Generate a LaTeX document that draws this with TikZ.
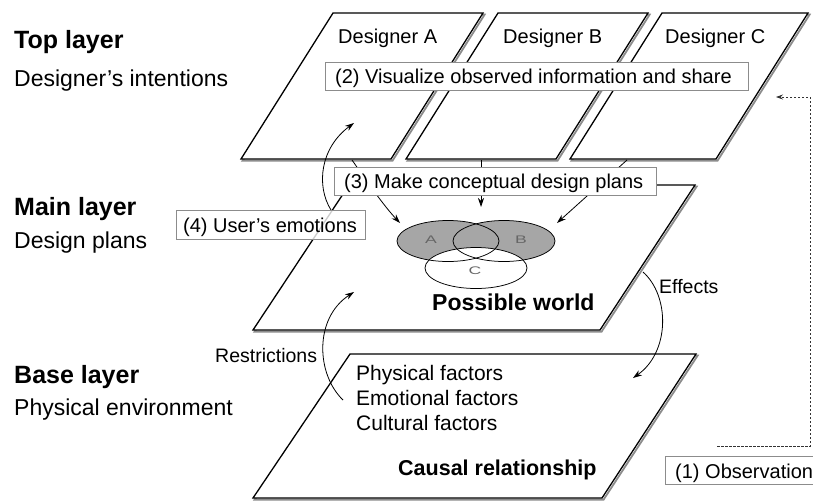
\documentclass[tikz,border=0pt]{standalone}
\usepackage{fontspec}
\setmainfont{Liberation Sans}
\usetikzlibrary{arrows.meta}
\newcommand{\layerplane}[4]{%
  \draw[planeshadow, shift={(1.6,1.6)}] (#1) -- (#2) -- (#3) -- (#4) -- cycle;
  \draw[planeedge] (#1) -- (#2) -- (#3) -- (#4) -- cycle;}
\newcommand{\wideletter}[1]{\scalebox{1.6}[1]{#1}}
\begin{document}
\begin{tikzpicture}[x=1pt,y=-1pt,
  planeedge/.style={draw=black, line width=1.3pt, fill=white, line join=miter},
  planeshadow/.style={draw=black!45, line width=1.8pt},
  lbox/.style={draw=black!45, line width=0.6pt, fill=white},
  arr/.style={-{Stealth[length=9pt,width=6pt]}, line width=0.8pt},
  obsline/.style={-{Stealth[length=7pt,width=5pt]}, line width=0.7pt, dash pattern=on 2.5pt off 1.5pt, draw=black!80},
  txt/.style={anchor=base west, inner sep=0pt},
  head/.style={txt, font=\fontsize{25}{28}\selectfont\bfseries},
  sub/.style={txt, font=\fontsize{23}{26}\selectfont},
  lab/.style={txt, font=\fontsize{20}{24}\selectfont},
  small/.style={txt, font=\fontsize{19.5}{23}\selectfont},
  fac/.style={txt, font=\fontsize{21}{24}\selectfont},
  big/.style={txt, font=\fontsize{23}{26}\selectfont\bfseries},
  venn/.style={inner sep=0pt, font=\fontsize{11}{12}\selectfont, text=black!60}
]
\useasboundingbox (0,0) rectangle (813,501);
% planes
\layerplane{333,13}{483,13}{391,159}{241,159}
\layerplane{498,13}{648,13}{556,159}{406,159}
\layerplane{662,13}{808,13}{716,159}{570,159}
\layerplane{349,185}{695,185}{600,330}{253,330}
\layerplane{350,354}{696,354}{602,498}{253,498}
% Venn
\fill[black!35] (448,241) ellipse [x radius=51, y radius=20.5];
\fill[black!35] (504,241) ellipse [x radius=51, y radius=20.5];
\fill[white] (476,268) ellipse [x radius=51, y radius=20.5];
\draw[line width=0.75pt] (448,241) ellipse [x radius=51, y radius=20.5];
\draw[line width=0.75pt] (504,241) ellipse [x radius=51, y radius=20.5];
\draw[line width=0.75pt] (476,268) ellipse [x radius=51, y radius=20.5];
\node[venn] (va) at (431,240) {\wideletter{A}};
\node[venn] (vb) at (521,240) {\wideletter{B}};
\node[venn] (vc) at (475,271) {\wideletter{C}};
% connector end points
\coordinate (aout) at (352,160);
\coordinate (ain) at (400,223);
\coordinate (bout) at (481,160);
\coordinate (bin) at (481,207);
\coordinate (cout) at (627,160);
\coordinate (cin) at (557,223);
\coordinate (emo) at (331,210);
\coordinate (atop) at (354,123);
\coordinate (effs) at (643,272);
\coordinate (effe) at (633,378);
\coordinate (ress) at (343,400);
\coordinate (rese) at (354,292);
\coordinate (obs0) at (717,446);
\coordinate (obs1) at (810,446);
\coordinate (obs2) at (810,97);
\coordinate (obs3) at (776,97);
% arrows
\draw[arr] (aout) .. controls (368,183) and (384,206) .. (ain);
\draw[arr] (bout) -- (bin);
\draw[arr] (cout) -- (cin);
\draw[arr] (emo) .. controls (316,186) and (320,148) .. (atop);
\draw[arr] (effs) .. controls (670,296) and (670,352) .. (effe);
\draw[arr] (ress) .. controls (316,374) and (314,318) .. (rese);
\draw[obsline] (obs0) -- (obs1) -- (obs2) -- (obs3);
% label boxes
\draw[lbox] (325,62) rectangle (748,90);
\draw[lbox] (334,167) rectangle (656,195);
\draw[lbox, fill opacity=0.8] (176,210) rectangle (365,239);
\draw[lbox] (665,456) rectangle (830,484);
% texts
\node[head] (t1) at (14,48) {Top layer};
\node[sub] (t2) at (14,86) {Designer’s intentions};
\node[head] (t3) at (14,215) {Main layer};
\node[sub] (t4) at (14,248) {Design plans};
\node[head] (t5) at (14,383) {Base layer};
\node[sub] (t6) at (14,415) {Physical environment};
\node[lab] (da) at (338,43) {Designer A};
\node[lab] (db) at (503,43) {Designer B};
\node[lab] (dc) at (665,43) {Designer C};
\node[lab] (l2) at (335,83) {(2) Visualize observed information and share};
\node[lab] (l3) at (344,188) {(3) Make conceptual design plans};
\node[lab] (l4) at (183,232) {(4) User’s emotions};
\node[lab] (l1) at (675,478) {(1) Observation};
\node[small] (eff) at (659,293) {Effects};
\node[small] (res) at (215,362) {Restrictions};
\node[fac] (f1) at (356,380) {Physical factors};
\node[fac] (f2) at (356,405) {Emotional factors};
\node[fac] (f3) at (356,430) {Cultural factors};
\node[big] (pw) at (432,310) {Possible world};
\node[big, font=\fontsize{21.5}{24}\selectfont\bfseries] (cr) at (398,475) {Causal relationship};
\end{tikzpicture}
\end{document}
